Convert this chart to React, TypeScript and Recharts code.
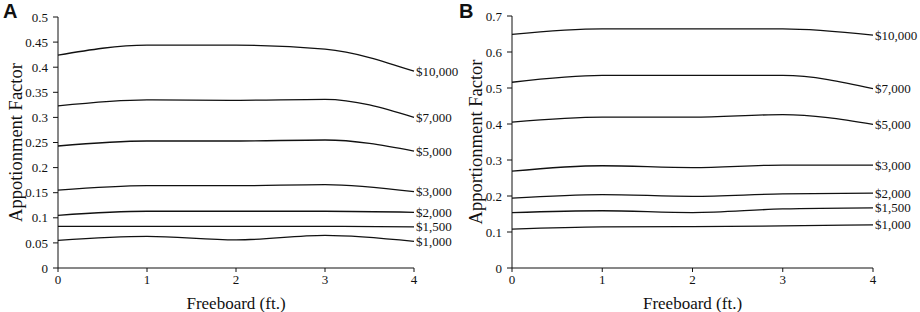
import { Line, LineChart, XAxis, YAxis } from "recharts";

const freeboard = [0, 1, 2, 3, 4];
const costLabels = ["$10,000", "$7,000", "$5,000", "$3,000", "$2,000", "$1,500", "$1,000"];

// panel A
const a10000 = [0.424, 0.444, 0.444, 0.436, 0.392];
const a7000 = [0.323, 0.335, 0.334, 0.336, 0.3];
const a5000 = [0.243, 0.253, 0.253, 0.255, 0.233];
const a3000 = [0.155, 0.164, 0.164, 0.166, 0.152];
const a2000 = [0.105, 0.113, 0.113, 0.113, 0.111];
const a1500 = [0.083, 0.083, 0.083, 0.083, 0.082];
const a1000 = [0.055, 0.063, 0.056, 0.065, 0.053];

// panel B
const b10000 = [0.649, 0.664, 0.664, 0.664, 0.647];
const b7000 = [0.516, 0.535, 0.535, 0.535, 0.498];
const b5000 = [0.405, 0.419, 0.419, 0.426, 0.399];
const b3000 = [0.269, 0.284, 0.279, 0.286, 0.286];
const b2000 = [0.194, 0.204, 0.199, 0.206, 0.208];
const b1500 = [0.154, 0.159, 0.154, 0.164, 0.167];
const b1000 = [0.108, 0.114, 0.115, 0.117, 0.12];

const ticksA = [0, 0.05, 0.1, 0.15, 0.2, 0.25, 0.3, 0.35, 0.4, 0.45, 0.5];
const ticksB = [0, 0.1, 0.2, 0.3, 0.4, 0.5, 0.6, 0.7];

const serif = "'Liberation Serif', 'Times New Roman', serif";
const tick = { fontSize: 13, fill: "#111", fontFamily: serif };

function buildRows(series: number[][]) {
  return freeboard.map((f, i) => {
    const row: Record<string, number> = { f };
    series.forEach((s, k) => (row["s" + k] = s[i]));
    return row;
  });
}

const rowsA = buildRows([a10000, a7000, a5000, a3000, a2000, a1500, a1000]);
const rowsB = buildRows([b10000, b7000, b5000, b3000, b2000, b1500, b1000]);

function endLabel(name: string) {
  return (props: any) => {
    if (props.index !== freeboard.length - 1) return <g />;
    return (
      <text x={props.x + 2} y={props.y} dy="0.35em" fontSize={13} fontFamily={serif} fill="#111">
        {name}
      </text>
    );
  };
}

function Panel({
  rows,
  ticks,
  max,
  yLabel,
  yWidth,
  right,
  top,
}: {
  rows: Record<string, number>[];
  ticks: number[];
  max: number;
  yLabel: string;
  yWidth: number;
  right: number;
  top: number;
}) {
  return (
    <LineChart width={460} height={312} data={rows} margin={{ top, right, bottom: 0, left: 0 }}>
      <XAxis
        dataKey="f"
        type="number"
        domain={[0, 4]}
        ticks={freeboard}
        height={44}
        stroke="#111"
        tickSize={4}
        tickMargin={3}
        tick={tick}
        label={{ value: "Freeboard (ft.)", position: "insideBottom", offset: 3, style: { fontSize: 17, fontFamily: serif, fill: "#111" } }}
      />
      <YAxis
        type="number"
        domain={[0, max]}
        ticks={ticks}
        interval={0}
        width={yWidth}
        stroke="#111"
        tickSize={5}
        tickMargin={5}
        tick={tick}
        label={{ value: yLabel, angle: -90, position: "insideLeft", offset: 15, style: { textAnchor: "middle", fontSize: 18.5, fontFamily: serif, fill: "#111" } }}
      />
      {costLabels.map((name, k) => (
        <Line
          key={name}
          dataKey={"s" + k}
          type="monotone"
          stroke="#111"
          strokeWidth={1.3}
          dot={false}
          label={endLabel(name)}
          isAnimationActive={false}
        />
      ))}
    </LineChart>
  );
}

const letter = {
  position: "absolute" as const,
  top: 0,
  lineHeight: "23px",
  fontFamily: "'Liberation Sans', Arial, sans-serif",
  fontWeight: 700,
  fontSize: 20,
  color: "#111",
};

export default function App() {
  return (
    <div style={{ position: "absolute", left: 0, top: 0, width: 920, height: 312, background: "#fff" }}>
      <div style={{ position: "absolute", left: 0, top: 0, display: "flex" }}>
        <Panel rows={rowsA} ticks={ticksA} max={0.5} yLabel="Appotionment Factor" yWidth={58} right={46} top={17} />
        <Panel rows={rowsB} ticks={ticksB} max={0.7} yLabel="Apportionment Factor" yWidth={52} right={47} top={16} />
      </div>
      <span style={{ ...letter, left: 3 }}>A</span>
      <span style={{ ...letter, left: 459 }}>B</span>
    </div>
  );
}
